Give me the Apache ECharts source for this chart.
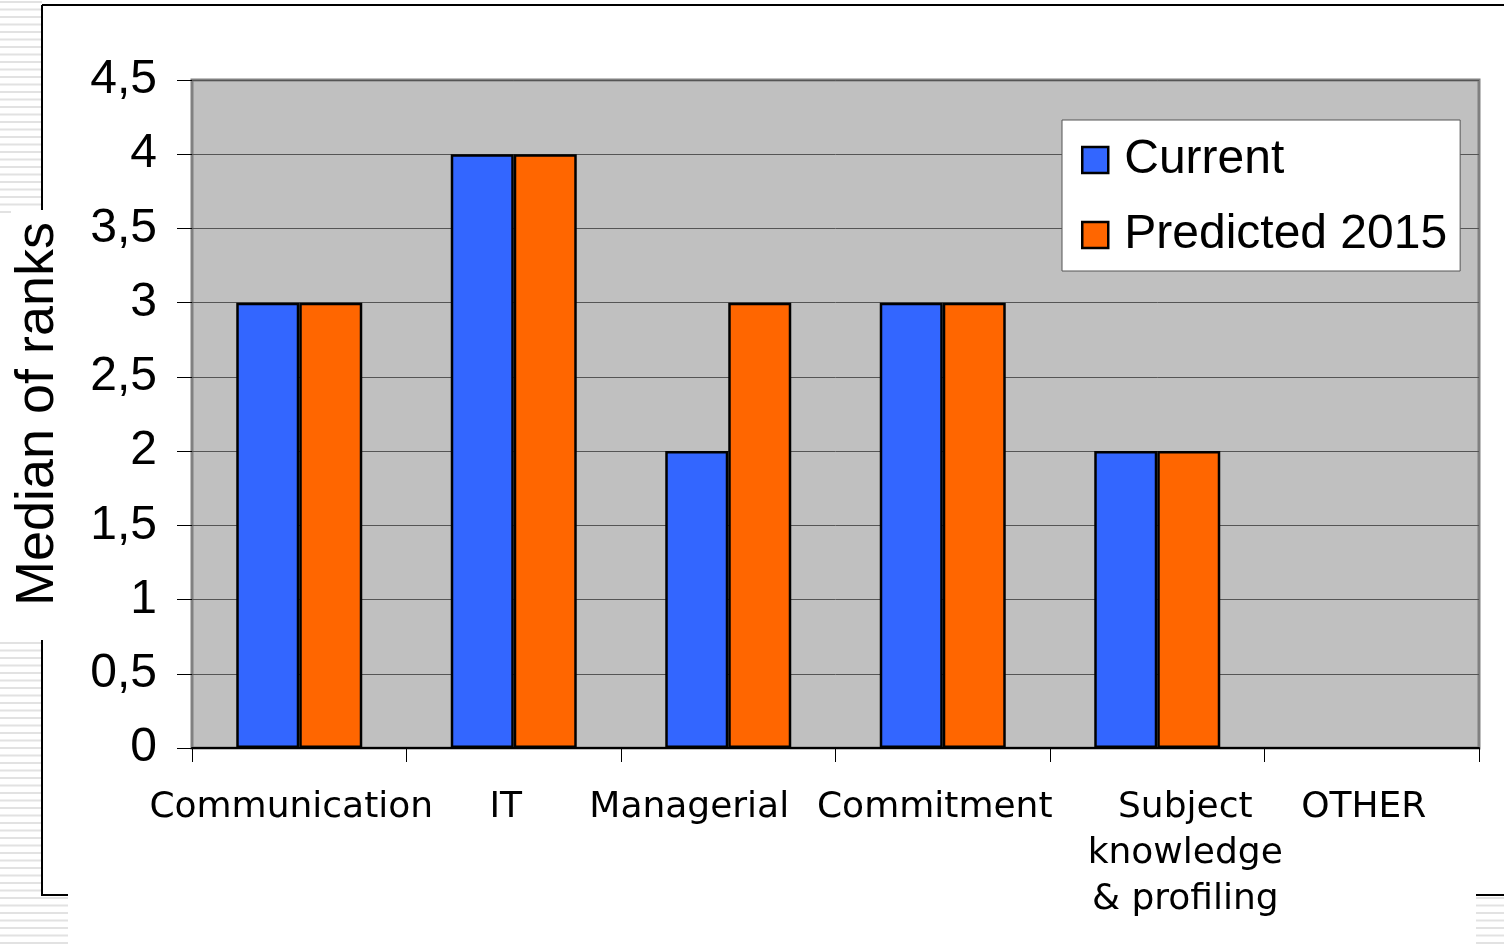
<!DOCTYPE html>
<html>
<head>
<meta charset="utf-8">
<script src="https://cdn.jsdelivr.net/npm/echarts@6/dist/echarts.min.js"></script>
<style>
html,body{margin:0;padding:0;background:#fff;}
#chart{width:1504px;height:949px;}
</style>
</head>
<body>
<div id="chart"></div>
<script>
const categories = ['Communication', 'IT', 'Managerial', 'Commitment', 'Subject\nknowledge\n& profiling', 'OTHER'];
const currentValues = [3, 4, 2, 3, 2, null];
const predictedValues = [3, 4, 3, 3, 2, null];
const seriesNames = ['Current', 'Predicted 2015'];
const yTicks = { min: 0, max: 4.5, interval: 0.5 };

const chart = echarts.init(document.getElementById('chart'), null, { renderer: 'canvas' });

// decorative slide template: stripes and frame
const deco = [];
function stripes(x, y0, y1, w) {
  for (let y = y0; y < y1; y += 7.5) {
    deco.push({ type: 'rect', shape: { x: x, y: y, width: w, height: Math.min(2, y1 - y) }, style: { fill: '#E2E2E2' }, silent: true, z: -10 });
  }
}
stripes(0, 1, 215, 42);
stripes(0, 642, 895, 42);
stripes(0, 897, 949, 68);
stripes(1476, 897, 949, 28);
const lineStyle = { stroke: '#000', lineWidth: 2 };
deco.push({ type: 'line', shape: { x1: 42, y1: 5, x2: 1504, y2: 5 }, style: lineStyle, silent: true });
deco.push({ type: 'line', shape: { x1: 42, y1: 5, x2: 42, y2: 215 }, style: lineStyle, silent: true });
deco.push({ type: 'line', shape: { x1: 42, y1: 640, x2: 42, y2: 895 }, style: lineStyle, silent: true });
deco.push({ type: 'line', shape: { x1: 41, y1: 895, x2: 68, y2: 895 }, style: lineStyle, silent: true });
deco.push({ type: 'line', shape: { x1: 1476, y1: 895, x2: 1504, y2: 895 }, style: lineStyle, silent: true });

const labelPads = [[0, 16, 0, 0], [0, 16, 0, 0], [0, 78, 0, 0], [0, 16, 0, 0], [0, 0, 0, 56], [0, 16, 0, 0]];
const catData = categories.map(function (c, i) {
  return { value: c, textStyle: { padding: labelPads[i] } };
});

chart.setOption({
  animation: false,
  backgroundColor: '#fff',
  graphic: deco,
  grid: {
    left: 192, right: 25, top: 80, bottom: 201,
    outerBoundsMode: 'none',
    containLabel: false,
    show: true, backgroundColor: '#C0C0C0', borderColor: '#808080', borderWidth: 3
  },
  legend: {
    data: seriesNames,
    orient: 'vertical',
    left: 1062, top: 120,
    backgroundColor: '#fff',
    borderColor: '#555',
    borderWidth: 1,
    padding: [16, 13, 12, 19],
    itemWidth: 26, itemHeight: 26, itemGap: 27,
    icon: 'rect',
    textStyle: { fontFamily: 'Liberation Sans', fontSize: 48, color: '#000', lineHeight: 48, padding: [0, 0, 0, 11] },
    itemStyle: { borderColor: '#000', borderWidth: 2.5 }
  },
  xAxis: {
    type: 'category',
    data: catData,
    boundaryGap: true,
    axisLine: { show: true, lineStyle: { color: '#000', width: 2 } },
    axisTick: { show: true, interval: 0, length: 14, alignWithLabel: false, lineStyle: { color: '#000', width: 1 } },
    axisLabel: { interval: 0, margin: 37, fontFamily: 'DejaVu Sans', fontSize: 36, color: '#000', lineHeight: 46 },
    splitLine: { show: false }
  },
  yAxis: {
    type: 'value',
    min: yTicks.min, max: yTicks.max, interval: yTicks.interval,
    name: 'Median of ranks',
    nameLocation: 'middle',
    nameRotate: 90,
    nameGap: 127,
    nameTextStyle: { fontFamily: 'Liberation Sans', fontSize: 54, color: '#000', backgroundColor: '#fff', padding: [0, 12, 0, 12] },
    axisLine: { show: false },
    axisTick: { show: true, length: 15, lineStyle: { color: '#000', width: 1 } },
    axisLabel: {
      margin: 35, fontFamily: 'Liberation Sans', fontSize: 48, color: '#000',
      formatter: function (v) { return String(v).replace('.', ','); }
    },
    splitLine: { show: true, lineStyle: { color: '#555', width: 1 } }
  },
  series: [
    {
      name: seriesNames[0], type: 'bar', data: currentValues,
      barWidth: 63, barGap: '0%',
      itemStyle: { color: '#3366FF', borderColor: '#000', borderWidth: 2.5 }
    },
    {
      name: seriesNames[1], type: 'bar', data: predictedValues,
      barWidth: 63, barGap: '0%',
      itemStyle: { color: '#FF6600', borderColor: '#000', borderWidth: 2.5 }
    }
  ]
});
</script>
</body>
</html>
